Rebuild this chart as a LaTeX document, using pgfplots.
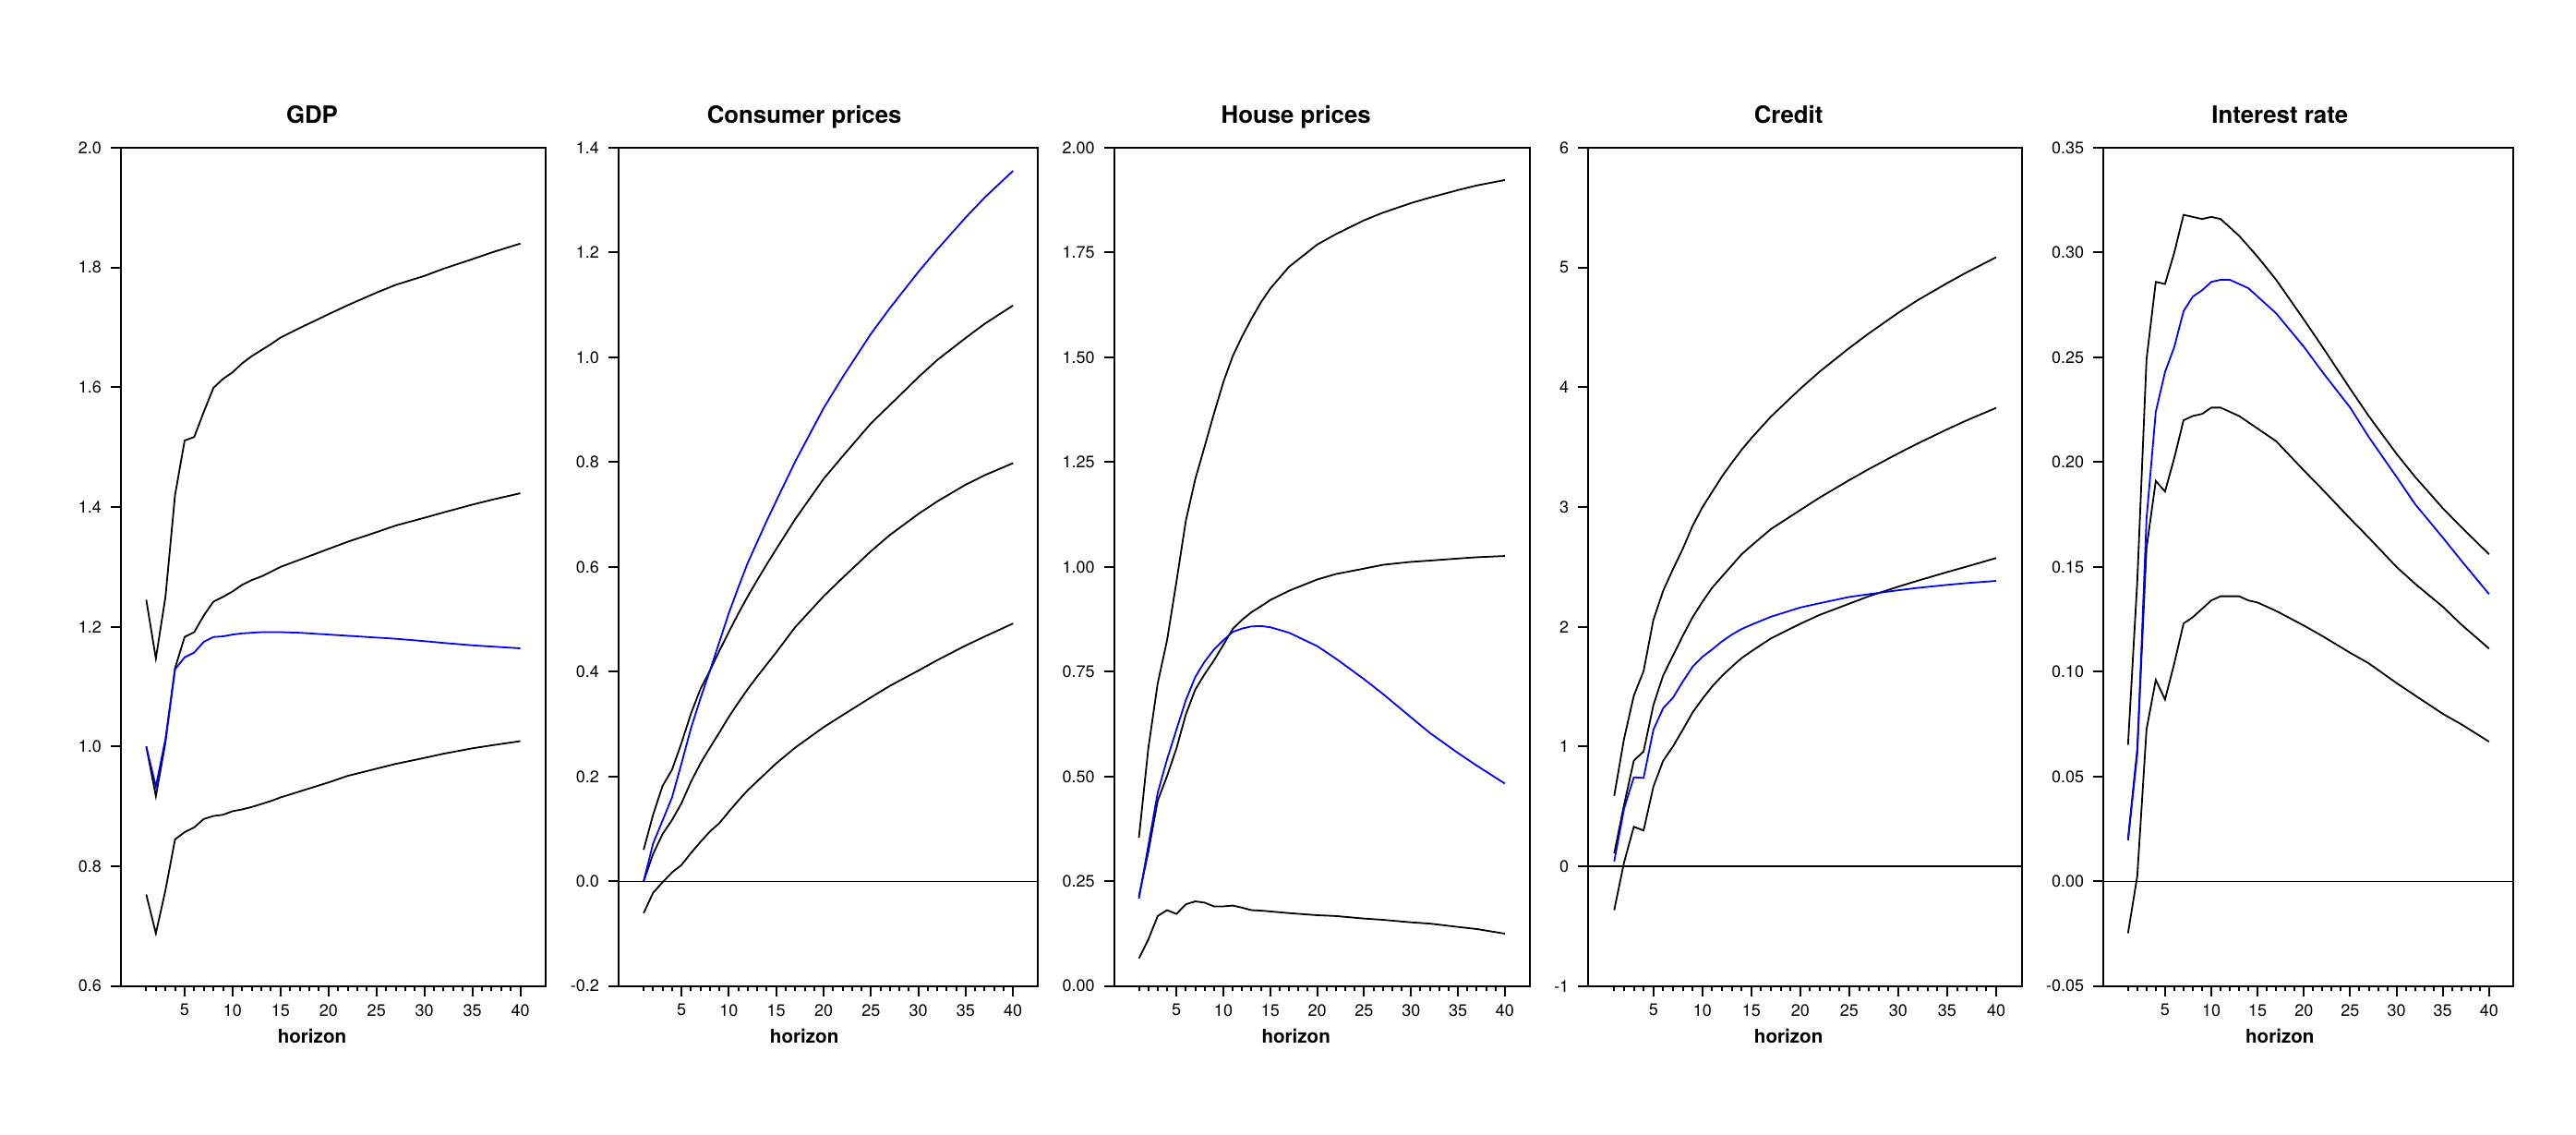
\documentclass[border=0pt]{standalone}
\usepackage{fontspec}
\setmainfont{TeX Gyre Heros}
\usepackage{pgfplots}
\usepackage{pgfplotstable}
\pgfplotsset{compat=1.18}

% impulse responses: up = upper band, mid = middle black, lo = lower band, bl = blue line
\pgfplotstableread{
x   up     mid    lo     bl
1   1.245  1.000  0.753  1.000
2   1.147  0.917  0.688  0.933
3   1.250  1.007  0.760  1.013
4   1.420  1.131  0.845  1.129
5   1.511  1.183  0.857  1.149
6   1.517  1.191  0.865  1.157
7   1.559  1.219  0.879  1.175
8   1.599  1.242  0.884  1.183
9   1.614  1.250  0.886  1.184
10  1.625  1.259  0.892  1.187
11  1.640  1.270  0.895  1.189
12  1.652  1.278  0.899  1.190
13  1.662  1.284  0.904  1.191
14  1.672  1.292  0.909  1.191
15  1.683  1.300  0.915  1.191
17  1.699  1.312  0.925  1.190
20  1.722  1.330  0.940  1.187
22  1.737  1.342  0.951  1.185
25  1.758  1.358  0.963  1.182
27  1.771  1.369  0.971  1.180
30  1.786  1.382  0.981  1.176
32  1.798  1.391  0.988  1.173
35  1.814  1.404  0.997  1.169
37  1.825  1.412  1.002  1.167
40  1.840  1.423  1.009  1.164
}\gdp

\pgfplotstableread{
x   up     mid    lo      bl
1   0.060  0.000  -0.061  0.000
2   0.127  0.052  -0.022  0.072
3   0.182  0.090  -0.002  0.116
4   0.213  0.117  0.017   0.160
5   0.264  0.149  0.031   0.225
6   0.320  0.190  0.054   0.292
7   0.367  0.225  0.075   0.349
8   0.402  0.255  0.095   0.402
9   0.440  0.284  0.111   0.457
10  0.476  0.314  0.133   0.512
11  0.511  0.341  0.154   0.561
12  0.544  0.367  0.174   0.608
13  0.575  0.391  0.191   0.648
14  0.605  0.414  0.208   0.688
15  0.634  0.437  0.225   0.726
17  0.691  0.485  0.255   0.801
20  0.768  0.544  0.294   0.903
22  0.811  0.579  0.317   0.962
25  0.874  0.630  0.351   1.045
27  0.909  0.661  0.373   1.094
30  0.962  0.701  0.402   1.163
32  0.995  0.725  0.422   1.206
35  1.037  0.757  0.450   1.267
37  1.064  0.775  0.467   1.305
40  1.099  0.798  0.492   1.356
}\cpi

\pgfplotstableread{
x   up     mid    lo     bl
1   0.354  0.214  0.066  0.209
2   0.567  0.320  0.111  0.335
3   0.722  0.442  0.167  0.461
4   0.825  0.501  0.181  0.541
5   0.965  0.567  0.172  0.612
6   1.110  0.648  0.195  0.682
7   1.209  0.707  0.202  0.737
8   1.287  0.744  0.199  0.774
9   1.366  0.777  0.190  0.803
10  1.441  0.814  0.190  0.825
11  1.503  0.852  0.192  0.845
12  1.550  0.874  0.187  0.853
13  1.592  0.892  0.181  0.858
14  1.631  0.906  0.180  0.859
15  1.664  0.921  0.178  0.856
17  1.716  0.943  0.174  0.843
20  1.769  0.970  0.169  0.811
22  1.794  0.983  0.167  0.781
25  1.827  0.996  0.161  0.732
27  1.845  1.005  0.158  0.697
30  1.868  1.012  0.152  0.641
32  1.881  1.015  0.149  0.604
35  1.899  1.020  0.141  0.556
37  1.910  1.023  0.136  0.526
40  1.923  1.026  0.125  0.483
}\house

\pgfplotstableread{
x   up     mid    lo      bl
1   0.588  0.108  -0.366  0.041
2   1.063  0.511  0.031   0.480
3   1.424  0.882  0.330   0.743
4   1.630  0.959  0.299   0.738
5   2.058  1.346  0.665   1.140
6   2.301  1.594  0.882   1.321
7   2.481  1.759  1.001   1.408
8   2.651  1.924  1.140   1.542
9   2.842  2.079  1.284   1.666
10  2.997  2.208  1.398   1.749
11  3.126  2.326  1.501   1.811
12  3.255  2.419  1.589   1.878
13  3.368  2.512  1.666   1.934
14  3.477  2.605  1.738   1.981
15  3.575  2.677  1.795   2.017
17  3.755  2.816  1.903   2.084
20  3.988  2.975  2.025   2.161
22  4.132  3.080  2.100   2.197
25  4.328  3.225  2.193   2.249
27  4.450  3.317  2.255   2.272
30  4.622  3.448  2.335   2.305
32  4.728  3.531  2.385   2.325
35  4.870  3.649  2.457   2.350
37  4.960  3.724  2.503   2.365
40  5.086  3.828  2.574   2.383
}\credit

\pgfplotstableread{
x   up     mid    lo       bl
1   0.0651 0.020  -0.0248  0.0195
2   0.143  0.063  0.0024   0.0607
3   0.249  0.159  0.0725   0.173
4   0.286  0.191  0.0961   0.224
5   0.285  0.186  0.0867   0.243
6   0.300  0.202  0.104    0.255
7   0.318  0.220  0.123    0.272
8   0.317  0.222  0.126    0.279
9   0.316  0.223  0.130    0.282
10  0.317  0.226  0.134    0.286
11  0.316  0.226  0.136    0.287
12  0.312  0.224  0.136    0.287
13  0.308  0.222  0.136    0.285
14  0.303  0.219  0.134    0.283
15  0.298  0.216  0.133    0.279
17  0.287  0.210  0.129    0.271
20  0.268  0.196  0.122    0.255
22  0.255  0.187  0.117    0.243
25  0.235  0.173  0.109    0.226
27  0.222  0.164  0.104    0.212
30  0.204  0.150  0.0946   0.193
32  0.193  0.142  0.0887   0.180
35  0.178  0.131  0.0799   0.164
37  0.169  0.1225 0.0749   0.153
40  0.156  0.111  0.0666   0.137
}\rate

\pgfplotsset{
  irf/.style={
    scale only axis, height=453.85pt,
    xmin=-1.64, xmax=42.64,
    axis line style={line width=1pt},
    xtick={5,10,...,40}, minor xtick={1,...,40},
    tick align=outside, tick pos=left,
    major tick length=5.5pt, minor tick length=2.85pt,
    every tick/.style={black, line width=1pt},
    ticklabel style={font=\fontsize{9}{10}\selectfont},
    /pgf/number format/assume math mode=true,
    xticklabel style={yshift=-0.8pt},
    yticklabel style={xshift=-1.5pt},
    title style={font=\fontsize{12.9}{15}\selectfont\bfseries,
      at={(axis description cs:0.5,1)}, anchor=base, yshift=7.2pt},
    xlabel={horizon},
    xlabel style={font=\fontsize{10.3}{12}\selectfont\bfseries,
      at={(axis description cs:0.5,0)}, anchor=base, yshift=-31pt},
    every axis plot/.append style={line width=0.9pt},
  },
  band/.style={black},
  med/.style={blue},
  zero/.style={black, line width=0.6pt},
}

\begin{document}
\begin{tikzpicture}
\path[use as bounding box] (0,0) rectangle (1395pt,614pt);

\begin{axis}[irf, at={(65.5pt,80.15pt)}, anchor=south west, width=230pt,
  ymin=0.6, ymax=2.0, ytick={0.6,0.8,1.0,1.2,1.4,1.6,1.8,2.0},
  yticklabel style={/pgf/number format/fixed, /pgf/number format/fixed zerofill, /pgf/number format/precision=1},
  title={GDP}, title style={xshift=-11.5pt}, xlabel style={xshift=-11.5pt}]
  \addplot[band] table[x=x,y=up] {\gdp};
  \addplot[band] table[x=x,y=mid] {\gdp};
  \addplot[band] table[x=x,y=lo] {\gdp};
  \addplot[med] table[x=x,y=bl] {\gdp};
\end{axis}

\begin{axis}[irf, at={(335pt,80.15pt)}, anchor=south west, width=227.15pt,
  ymin=-0.2, ymax=1.4, ytick={-0.2,0,0.2,0.4,0.6,0.8,1.0,1.2,1.4},
  yticklabel style={/pgf/number format/fixed, /pgf/number format/fixed zerofill, /pgf/number format/precision=1},
  title={Consumer prices}, title style={xshift=-13pt}, xlabel style={xshift=-13pt}]
  \addplot[zero] coordinates {(-1.64,0) (42.64,0)};
  \addplot[band] table[x=x,y=up] {\cpi};
  \addplot[band] table[x=x,y=mid] {\cpi};
  \addplot[band] table[x=x,y=lo] {\cpi};
  \addplot[med] table[x=x,y=bl] {\cpi};
\end{axis}

\begin{axis}[irf, at={(603.35pt,80.15pt)}, anchor=south west, width=225pt,
  ymin=0, ymax=2, ytick={0,0.25,0.5,0.75,1,1.25,1.5,1.75,2},
  yticklabel style={/pgf/number format/fixed, /pgf/number format/fixed zerofill, /pgf/number format/precision=2},
  title={House prices}, title style={xshift=-14pt}, xlabel style={xshift=-14pt}]
  \addplot[band] table[x=x,y=up] {\house};
  \addplot[band] table[x=x,y=mid] {\house};
  \addplot[band] table[x=x,y=lo] {\house};
  \addplot[med] table[x=x,y=bl] {\house};
\end{axis}

\begin{axis}[irf, at={(860.15pt,80.15pt)}, anchor=south west, width=234.85pt,
  ymin=-1, ymax=6, ytick={-1,0,1,2,3,4,5,6},
  title={Credit}, title style={xshift=-9pt}, xlabel style={xshift=-9pt}]
  \addplot[zero] coordinates {(-1.64,0) (42.64,0)};
  \addplot[band] table[x=x,y=up] {\credit};
  \addplot[band] table[x=x,y=mid] {\credit};
  \addplot[band] table[x=x,y=lo] {\credit};
  \addplot[med] table[x=x,y=bl] {\credit};
\end{axis}

\begin{axis}[irf, at={(1139.15pt,80.15pt)}, anchor=south west, width=222pt,
  ymin=-0.05, ymax=0.35, ytick={-0.05,0,0.05,0.1,0.15,0.2,0.25,0.3,0.35},
  yticklabel style={/pgf/number format/fixed, /pgf/number format/fixed zerofill, /pgf/number format/precision=2},
  title={Interest rate}, title style={xshift=-15.5pt}, xlabel style={xshift=-15.5pt}]
  \addplot[zero] coordinates {(-1.64,0) (42.64,0)};
  \addplot[band] table[x=x,y=up] {\rate};
  \addplot[band] table[x=x,y=mid] {\rate};
  \addplot[band] table[x=x,y=lo] {\rate};
  \addplot[med] table[x=x,y=bl] {\rate};
\end{axis}
\end{tikzpicture}
\end{document}
